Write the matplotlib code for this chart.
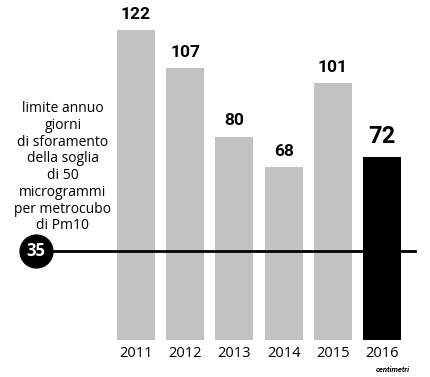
import matplotlib
matplotlib.use("Agg")
import matplotlib.pyplot as plt

years = ["2011", "2012", "2013", "2014", "2015", "2016"]
days = [122, 107, 80, 68, 101, 72]
limit = 35
note = "limite annuo\ngiorni\ndi sforamento\ndella soglia\ndi 50\nmicrogrammi\nper metrocubo\ndi Pm10"

W, H = 431, 377
fig = plt.figure(figsize=(W / 100, H / 100), dpi=100)
ax = fig.add_axes([0, 0, 1, 1])

# pixel mapping: bar i centre at 136 + 49.2*i px, value v at 340 - 2.54*v px from top
pitch, x0 = 49.2, 136
scale, base = 2.54, 340
ax.set_xlim(-x0 / pitch, (W - x0) / pitch)
ax.set_ylim(-(H - base) / scale, base / scale)
ax.axis("off")

x = list(range(len(years)))
colors = ["#c2c2c2"] * (len(years) - 1) + ["black"]
ax.bar(x, days, width=38 / pitch, color=colors, zorder=1)

for i, (yr, v) in enumerate(zip(years, days)):
    last = i == len(years) - 1
    ax.text(i, v + (3.5 if last else 3.3), str(v), ha="center", va="bottom",
            fontsize=17 if last else 12.5, fontweight="bold", family="Roboto")
    ax.text(i, -5.5, yr, ha="center", va="center", fontsize=10.5, family="Open Sans")

# threshold line with circle marker
xl = (36 - x0) / pitch
ax.plot([xl, (415 - x0) / pitch], [limit, limit], color="black", lw=2, zorder=3)
ax.scatter([xl], [limit], s=560, color="black", zorder=4)
ax.text(xl, limit, str(limit), ha="center", va="center", color="white",
        fontsize=12, fontweight="bold", family="Open Sans", zorder=5)

ax.text((63 - x0) / pitch, (base - 101) / scale, note, ha="center", va="top",
        fontsize=10, family="Open Sans", linespacing=1.16)

ax.text((393 - x0) / pitch, -(370 - base) / scale, "centimetri", ha="center",
        va="center", fontsize=5.5, fontweight="bold", style="italic", family="Roboto")

fig.savefig("out.png", dpi=100)
